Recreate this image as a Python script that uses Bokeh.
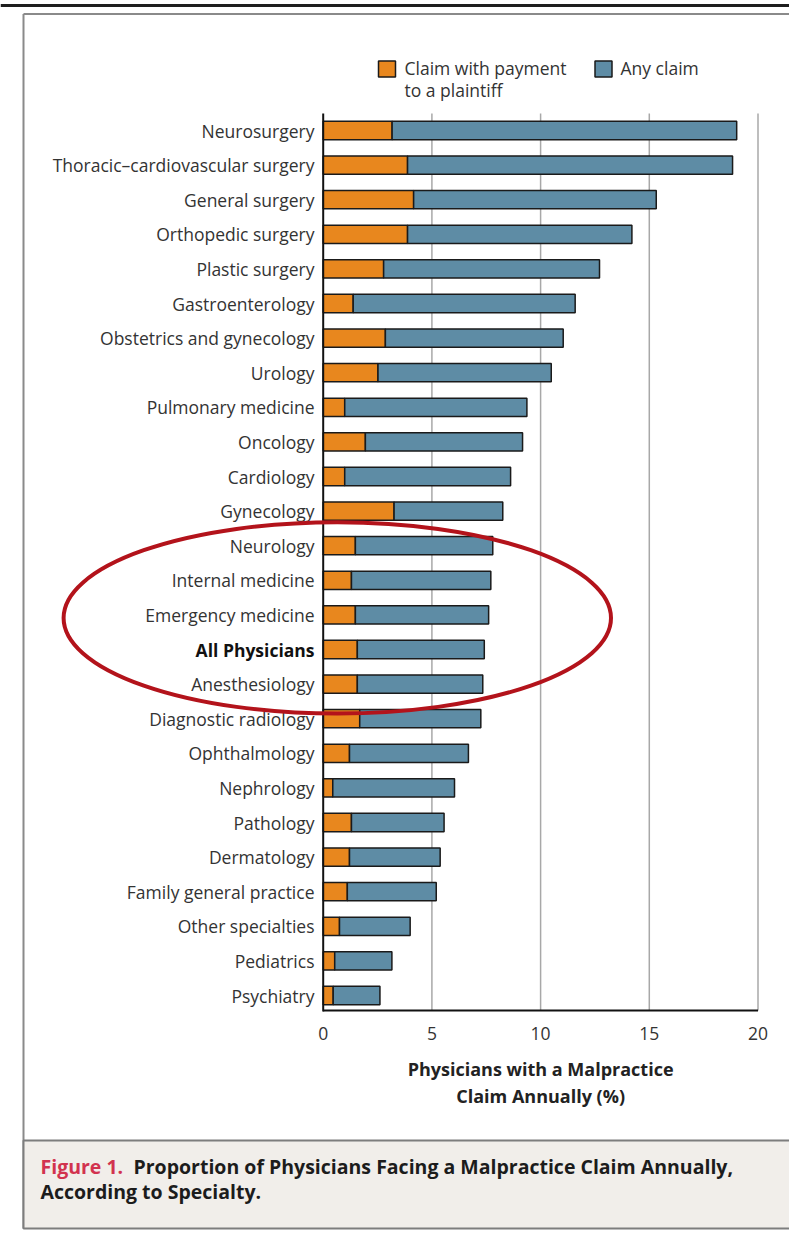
from bokeh.plotting import figure
from bokeh.models import Range1d, ColumnDataSource
from bokeh.core.properties import value
from bokeh.embed import file_html
from bokeh.resources import INLINE

# ---------------- data ----------------
specialties = [
    "Neurosurgery", "Thoracic\u2013cardiovascular surgery", "General surgery",
    "Orthopedic surgery", "Plastic surgery", "Gastroenterology",
    "Obstetrics and gynecology", "Urology", "Pulmonary medicine", "Oncology",
    "Cardiology", "Gynecology", "Neurology", "Internal medicine",
    "Emergency medicine", "All Physicians", "Anesthesiology",
    "Diagnostic radiology", "Ophthalmology", "Nephrology", "Pathology",
    "Dermatology", "Family general practice", "Other specialties",
    "Pediatrics", "Psychiatry",
]
paid_claim = [3.17, 3.88, 4.16, 3.88, 2.78, 1.38, 2.86, 2.52, 0.99, 1.94,
              0.99, 3.26, 1.48, 1.30, 1.48, 1.57, 1.57, 1.68, 1.21, 0.44,
              1.30, 1.21, 1.11, 0.75, 0.53, 0.46]
any_claim = [19.02, 18.83, 15.32, 14.20, 12.71, 11.59, 11.04, 10.49, 9.37, 9.17,
             8.62, 8.26, 7.80, 7.71, 7.61, 7.41, 7.34, 7.25, 6.68, 6.04,
             5.56, 5.38, 5.20, 4.00, 3.16, 2.61]
tick_values = [0, 5, 10, 15, 20]
tick_labels = ["0", "5", "10", "15", "20"]
series_names = ["Claim with payment", "Any claim"]
axis_title = ["Physicians with a Malpractice", "Claim Annually (%)"]
caption_lead = "Figure 1."
caption_lines = ["Proportion of Physicians Facing a Malpractice Claim Annually,",
                 "According to Specialty."]

# ---------------- layout helpers ----------------
W, H = 789, 1231
X0, PXU = 322.7, 21.74     # px of x=0, px per percent
Y0, PYU = 995.0, 34.6      # px of last row, px per row


def xd(px):
    return (px - X0) / PXU


def yd(py):
    return (Y0 - py) / PYU


def xw(px):
    return px / PXU


def yh(py):
    return py / PYU


ORANGE = "#E8871E"
BLUE = "#5E8CA5"
EDGE = "#1a1a1a"
TXT = "#333333"
FONT = value("Open Sans")

n = len(specialties)
ypos = [n - 1 - i for i in range(n)]
styles = ["bold" if s == "All Physicians" else "normal" for s in specialties]
label_colors = ["#111111" if s == "All Physicians" else TXT for s in specialties]

src = ColumnDataSource(dict(y=ypos, name=specialties, paid=paid_claim,
                            anyc=any_claim, style=styles, lc=label_colors,
                            zero=[0] * n))

p = figure(width=W, height=H,
           x_range=Range1d(xd(0), xd(W)),
           y_range=Range1d(yd(H), yd(0)),
           output_backend="svg", toolbar_location=None,
           x_axis_type=None, y_axis_type=None, min_border=0,
           outline_line_color=None)
p.background_fill_color = "white"
p.border_fill_color = "white"
p.grid.visible = False

# frame lines
p.segment(x0=xd(0), y0=yd(5), x1=xd(800), y1=yd(5), line_color="#1e1e1e", line_width=3)
p.segment(x0=xd(23), y0=yd(13.5), x1=xd(800), y1=yd(13.5), line_color="#8a8a8a", line_width=2)
p.segment(x0=xd(23), y0=yd(13.5), x1=xd(23), y1=yd(1228), line_color="#8a8a8a", line_width=2)

# caption box
p.quad(left=xd(23), right=xd(800), top=yd(1140), bottom=yd(1228),
       fill_color="#f1eeea", line_color="#7d7d7d", line_width=2)
p.text(x=xd(40), y=yd(1166), text=[caption_lead], text_color="#d2334f",
       text_font=FONT, text_font_style="bold", text_font_size="19.5px",
       text_baseline="middle", text_align="left")
p.text(x=xd(133), y=yd(1166), text=[caption_lines[0]], text_color="#1c1c1c",
       text_font=FONT, text_font_style="bold", text_font_size="19.5px",
       text_baseline="middle", text_align="left")
p.text(x=xd(40), y=yd(1191), text=[caption_lines[1]], text_color="#1c1c1c",
       text_font=FONT, text_font_style="bold", text_font_size="19.5px",
       text_baseline="middle", text_align="left")

# gridlines
p.segment(x0=tick_values[1:], y0=yd(1010), x1=tick_values[1:], y1=yd(113),
          line_color="#a8a8a8", line_width=1.5)

# bars
p.hbar(y="y", left="zero", right="paid", height=0.53, source=src,
       fill_color=ORANGE, line_color=EDGE, line_width=1.5)
p.hbar(y="y", left="paid", right="anyc", height=0.53, source=src,
       fill_color=BLUE, line_color=EDGE, line_width=1.5)

# axes
p.segment(x0=0, y0=yd(113), x1=0, y1=yd(1011), line_color="#111111", line_width=2)
p.segment(x0=0, y0=yd(1010), x1=tick_values[-1], y1=yd(1010), line_color="#111111", line_width=2)

# category labels
p.text(x=xd(314), y="y", text="name", source=src, text_align="right",
       text_baseline="middle", text_font=FONT, text_font_size="17.5px",
       text_color="lc", text_font_style="style")

# tick labels
p.text(x=tick_values, y=yd(1033), text=tick_labels, text_align="center",
       text_baseline="middle", text_font=FONT, text_font_size="17.5px",
       text_color=TXT)

# axis title
p.text(x=10, y=[yd(1068), yd(1095)], text=axis_title, text_align="center",
       text_baseline="middle", text_font=FONT, text_font_size="18px",
       text_font_style="bold", text_color="#222222")

# legend
p.rect(x=[xd(386.5), xd(603)], y=yd(68.4), width=xw(17), height=yh(16),
       fill_color=[ORANGE, BLUE], line_color=EDGE, line_width=1.5)
p.text(x=xd(404), y=[yd(67), yd(89)], text=[series_names[0], "to a plaintiff"],
       text_align="left", text_baseline="middle", text_font=FONT,
       text_font_size="17.5px", text_color=TXT)
p.text(x=xd(620), y=yd(67), text=[series_names[1]], text_align="left",
       text_baseline="middle", text_font=FONT, text_font_size="17.5px",
       text_color=TXT)

# highlight ellipse
p.ellipse(x=xd(336.8), y=yd(617.4), width=xw(547.4), height=yh(191.4),
          fill_color=None, line_color="#b3131b", line_width=4)

open("out.html", "w").write(file_html(p, INLINE))
